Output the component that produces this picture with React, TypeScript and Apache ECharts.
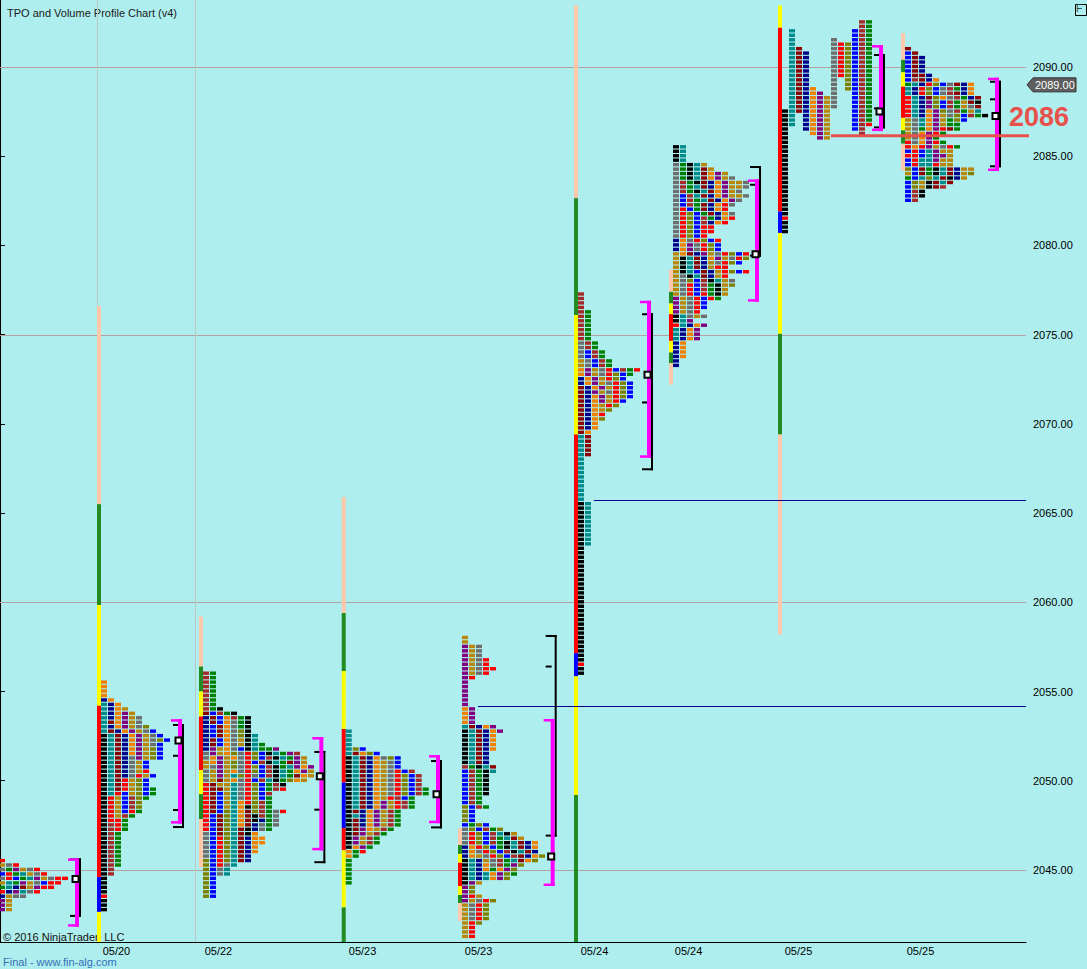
import React, { useEffect, useRef } from "react";
import * as echarts from "echarts";

// ---------- colours ----------
const TPO_COLORS: Record<string, string> = {
  K: "#000000", T: "#008B8B", D: "#8B0000", N: "#00008B", O: "#F08000",
  P: "#800080", G: "#B8860B", Y: "#6E6E6E", R: "#FF0000", V: "#808000",
  B: "#0000FF", W: "#A52A2A", E: "#008000",
};
const BAR_COLORS: Record<string, string> = {
  S: "#FFC8AA", F: "#228B22", L: "#FFFF00", R: "#FF0000", B: "#0000FF",
};

const TICK_SIZE = 0.25;

// ---------- TPO rows (top price downwards, one letter per period) ----------
const s1Rows = ["R", "GYR", "YEPGYR", "BRETGYR", "YRBETPGYRR", "GTEPGYBRR", "ETNDGPRR", "RNPTYR", "NGYY", "PG", "PG", "PG"];

const s2Rows = [
  "O", "O", "O", "O", "NO", "TNO", "TNOG", "TNOPG", "TNOPGY", "TDOPGY", "TNOPGYV", "TDNOPGYB",
  "KTDNOPGYB", "KTDNOPGYVB", "KTDNOPGYB", "KTDNOPGVB", "KTDNOPGVB", "KTDNYPGVB", "KTDNYGB", "KTDNYGB",
  "KTDNYGR", "KTDNYRGB", "KTDRGVB", "KTDRGVB", "KTDRGVBE", "KTRBGVBE", "KRGBWVE", "KRGBWV", "KRGBWV",
  "KRGBRE", "KRGWE", "KRRE", "KWRE", "KWRE", "KWE", "KWE", "KWE", "KWE", "KWE", "KWE", "KWE", "KWE",
  "KW", "KW", "K", "K", "K", "K", "R", "K", "K", "K",
];

const s3Rows = [
  "WE", "WE", "WE", "WE", "WE", "WE", "WE", "WE", "WEK", "DBWEK", "NDBOWEK", "NDBOYEK", "NBDOYEK",
  "NBDOYVK", "NBDOYVKT", "NDBOYGKT", "NDBOYGKTE", "NPGOYBKTEEP", "YPGOVYRVBKTEPW", "YOPGOYRVBWKTEPG",
  "GOPGVYRBWKTEDPG", "GYPGVYRVBWKETPOP", "YGPGOYRVBWKTEOPG", "YGPGTVRYBWKTEDOG", "YGDGOYRBWTKEVOG",
  "RDGGTYRVBEWK", "RDDGTYRVBEWR", "RDBGTYRVBW", "RDBGTYRVBE", "RDBGTORVWE", "RDBGTOKVWE", "RDBVTODVWEYR",
  "RBDVTODKWEY", "RBDVTODKNEY", "RBDVTODNYEY", "RBDVTDKNYE", "YBDVTDKO", "YBRVTDNOO", "YBRVTDNOO",
  "YBRVTDNO", "YBRVTDNO", "YBRVTDN", "VBRVTDN", "VBRYT", "VBYT", "VBYT", "VB", "VB", "VB", "VB", "VB",
];

const s4Rows = [
  "T", "T", "T", "T", "TVB", "TDOVB", "KTDNOYVB", "KTDNOGYB", "KTDNOGYB", "KTDNOGYRBW", "KTDNOGYRVBW",
  "KTDNOGYRVBW", "KTDNOGYRVBW", "KTDNOGYRVBWE", "KTDNOGYRVBWE", "KTDNOGRWBE", "KTDNOPGRWE", "KTDNOPGRWE",
  "KDNOPGWE", "KTNOPGWE", "KDNOPGWE", "KDNOPGWE", "KDPOGWE", "KDPGWE", "KPGWE", "KPGWE", "KOPE", "OER",
  "OE", "E", "E", "E", "E", "E", "E",
];

const s5Rows = [
  "G", "G", "PGY", "PGY", "PGY", "PGYR", "PGYR", "PGYRR", "PGYR", "PR", "P", "P", "P", "P", "P", "P",
  "OP", "OP", "OP", "OP", "TDNOP", "KTDNOP", "KTDNO", "KTDNO", "KTDNO", "KTDNO", "KTDN", "KTDN", "KTDN",
  "WEKTD", "BWEKT", "BWEK", "BWEK", "BWEK", "BWEK", "BWEK", "BWE", "BWE", "VBWE", "VB", "VB", "VB", "BEVB",
  "YVBWEV", "YRVBWTKG", "YRVBWETDG", "YRVBWEKTDNO", "NORVBEKTDNO", "NOYRVBWKTDN", "NOGYRVBWDNOV",
  "KTNGYWETDOV", "KTNOYWEPV", "KTNOEOPV", "KTNTOPVE", "KTNTOPV", "KPG", "PV", "PV", "PRG", "PGYRV",
  "GYRV", "GYRV", "GYRV", "GYRV", "GRV", "GR", "GR", "GR",
];

const s6Rows = [
  "W", "W", "W", "W", "WE", "WE", "WE", "WE", "WE", "WE", "WE", "YWE", "YWE", "YBWE", "YBWE", "GYBWE", "GYBWE",
  "OPGYRBWER", "OPGYRVBE", "NOPGRVB", "NOPGYRVB", "DNOPGRVB", "DNPGYRVB", "DNOPGRVB", "DNOPGRB", "DNOGRV",
  "DNOGV", "DNOR", "DNOV", "DNO", "DNO", "DO", "TD", "TD", "TD", "TD", "TD",
  "T", "T", "T", "T", "T", "T", "T", "T", "T", "T",
  "KT", "KT", "KT", "KT", "KT", "KT", "KT", "KT", "KT", "KT",
  "K", "K", "K", "K", "K", "K", "K", "K", "K", "K", "K", "K", "K", "K", "K", "K", "K", "K", "K", "K",
  "K", "K", "K", "K", "K", "K", "R", "K", "K",
];

const s7Rows = [
  "KT", "KT", "KT", "KT", "YEKTG", "YEKTDG", "YEKTDOPG", "YEKTDOPGY", "YWEKDNOPGGY", "YWETDNOPGGY",
  "YWEKTDOPGY", "YBWTDNOPGGY", "YBWETDNOPY", "YBWEDNORY", "YRBEDNOR", "YRVBEDNOY", "YRVBWENOR", "YRVBWNOR",
  "YRVBRR", "YRVBRR", "YRVBR", "NOYRVBR", "NOPYRVB", "NOPYRVB", "GODNPGYRVBR", "GKTDNOPGYRV", "GKTDNGYRVB",
  "GKTDNGRR", "GKTBDNGRVBR", "GYKTDNGR", "GYVBWKTGY", "GYRBWEKGV", "GYRBWEKG", "GYRBREKG", "PGYRBRE",
  "PGYRB", "PGYRB", "PGYR", "KTYGY", "KTP", "RTNOP", "TNOP", "TNOP", "TNOP", "NO", "NO", "NO", "NO", "N", "N",
];

// split profile: every period keeps its own column
const s8Rows = [
  "           WE", "           WE", " T        BWE", " T        BWE", " T     Y  BWE", " T     YRVBWE",
  " TD    YRVBWE", " TDN   YRVBWE", " TDN   YRVBWE", " TDN   YRVBWE", " TDN   YRVBWE", " TDN   YRVBWE",
  " TDN   YRVBWE", " TDN   Y VBWE", " TDN   Y VBWE", " TDNO  Y VBWE", " TDNOP Y  BWE", " TDNOPGY  BWE",
  " TDNOPGY  BWE", " TDNOPGY  BWE", "KTDNOPG   BWE", "KT NOPG   BWE", "KT NOPG   BWE", "KT NOPG   BWR",
  "K  NOPG   BW", "K   OPG    W", "K    PG",
  "K", "K", "K", "K", "K", "K", "K", "K", "K", "K", "K", "K", "K", "K", "K", "K", "K", "R", "K", "K", "K",
];

const s9Rows = [
  "D", "BD", "BDN", "BDN", "BDN", "BDN", "BDDN", "BWDNO",
  "ETNRVBYDNO", "TNRVBYWENO", "TNRVBYWDNO",
  "RTNDVOYWEND", "RTNPVBWEGDK", "RTNPVBWEGYD", "RTNOPVYWEGT", "RTNOPGYVBWEK",
  "GYTOPGEVB", "GYTOPGEE", "GYEOPRDE", "GYOPRE", "GYOPE", "RYOPRE", "RORPGYRE",
  "BRBTPGG", "RRBTPPG", "BRTTPGG", "BRTTRGG",
  "VBDEKTDNGG", "GBDEKTDNGV", "EBTVTDKNG", "BVGKDTD", "BVGKDW", "BWK", "BWK", "BW",
];

const sessionRows = [s1Rows, s2Rows, s3Rows, s4Rows, s5Rows, s6Rows, s7Rows, s8Rows, s9Rows];
const sessionTop = [2045.5, 2055.5, 2056, 2052.75, 2058, 2077.25, 2085.5, 2092.5, 2091];
// bar index (x-axis unit) where each session's first TPO column starts
const sessionStart = [-0.14, 14.43, 29.0, 49.39, 66.0, 82.57, 96.14, 111.71, 129.29];

// ---------- session range bars [colour, low, high] ----------
const s2Bar: [string, number, number][] = [["S", 2065.5, 2076.6], ["F", 2059.85, 2065.5], ["L", 2054.2, 2059.85], ["R", 2044.6, 2054.2], ["B", 2042.65, 2044.6], ["L", 2040.5, 2042.65]];
const s3Bar: [string, number, number][] = [["S", 2056.4, 2059.2], ["F", 2055.0, 2056.4], ["L", 2053.6, 2055.0], ["R", 2050.6, 2053.6], ["L", 2049.25, 2050.6], ["F", 2047.85, 2049.25], ["S", 2045.15, 2047.85]];
const s4Bar: [string, number, number][] = [["S", 2059.4, 2065.9], ["F", 2056.15, 2059.4], ["L", 2052.9, 2056.15], ["R", 2049.9, 2052.9], ["B", 2047.35, 2049.9], ["R", 2046.1, 2047.35], ["L", 2042.9, 2046.1], ["F", 2040.5, 2042.9]];
const s5Bar: [string, number, number][] = [["S", 2046.4, 2047.35], ["F", 2045.9, 2046.4], ["L", 2045.4, 2045.9], ["R", 2044.1, 2045.4], ["L", 2043.6, 2044.1], ["F", 2043.15, 2043.6], ["S", 2042.15, 2043.15]];
const s6Bar: [string, number, number][] = [["S", 2082.65, 2093.45], ["F", 2076.1, 2082.65], ["L", 2069.4, 2076.1], ["R", 2057.15, 2069.4], ["B", 2055.85, 2057.15], ["L", 2049.2, 2055.85], ["F", 2040.5, 2049.2]];
const s7Bar: [string, number, number][] = [["S", 2077.4, 2078.65], ["F", 2076.75, 2077.4], ["L", 2076.15, 2076.75], ["R", 2074.65, 2076.15], ["L", 2074.0, 2074.65], ["F", 2073.4, 2074.0], ["S", 2072.2, 2073.4]];
const s8Bar: [string, number, number][] = [["L", 2092.2, 2093.45], ["R", 2081.9, 2092.2], ["B", 2080.7, 2081.9], ["L", 2075.05, 2080.7], ["F", 2069.4, 2075.05], ["S", 2058.2, 2069.4]];
const s9Bar: [string, number, number][] = [["S", 2090.4, 2091.9], ["F", 2089.7, 2090.4], ["L", 2088.9, 2089.7], ["R", 2087.15, 2088.9], ["L", 2086.45, 2087.15], ["F", 2085.7, 2086.45], ["S", 2084.2, 2085.7]];
const sessionBars = [[], s2Bar, s3Bar, s4Bar, s5Bar, s6Bar, s7Bar, s8Bar, s9Bar];

// ---------- value area / range brackets ----------
const vaHigh = [2045.65, 2053.45, 2052.45, 2051.44, 2053.46, 2076.9, 2083.7, 2091.23, 2089.4];
const vaLow = [2041.82, 2047.6, 2046.1, 2047.62, 2044.1, 2068.1, 2076.85, 2086.41, 2084.17];
const ibHigh = [2045.65, 2053.18, 2051.67, 2051.16, 2058.17, 2076.2, 2084.45, 2090.73, 2089.23];
const ibLow = [2042.37, 2047.35, 2045.38, 2047.33, 2046.87, 2067.4, 2079.37, 2086.56, 2084.38];
const ibTicks = [[], [2051.4, 2048.36], [2048.38], [], [2056.4], [2071.2], [2083.4], [2087.68], [2088.19]];
const pocPrice = [2044.5, 2052.25, 2050.25, 2049.25, 2045.75, 2072.75, 2079.5, 2087.5, 2087.25];
const bracketAt = [11.29, 26.0, 46.19, 62.86, 79.24, 93.0, 108.43, 126.14, 142.71];

// ---------- lines & labels ----------
const gridLevels = [2045, 2060, 2075, 2090];
const separatorAt = [13.86, 27.86];
const nakedPocPrice = [2065.75, 2054.2];
const nakedPocFrom = [84.86, 68.29];
const refLevel = 2086.15;
const refFrom = 118.7;
const refLabel = "2086";
const lastPrice = 2089;
const yTickValues = [2045, 2050, 2055, 2060, 2065, 2070, 2075, 2080, 2085, 2090];
const xLabelPos = [16.64, 31.21, 51.79, 68.36, 84.93, 98.36, 114.07, 131.5];
const xLabelText = ["05/20", "05/22", "05/23", "05/23", "05/24", "05/24", "05/25", "05/25"];

const Y_MIN = 2040.963;
const Y_MAX = 2093.755;
const X_MAX = 146.57;
const FONT = '"Liberation Sans", Arial, sans-serif';

export default function App() {
  const ref = useRef<HTMLDivElement>(null);
  useEffect(() => {
    if (!ref.current) return;
    const chart = echarts.init(ref.current, undefined, { renderer: "svg" });

    const blocks: [number, number, string][] = [];
    sessionRows.forEach((rows, s) => {
      rows.forEach((row, r) => {
        for (let c = 0; c < row.length; c++) {
          const ch = row[c];
          if (ch !== " ") blocks.push([sessionStart[s] + c, sessionTop[s] - r * TICK_SIZE, ch]);
        }
      });
    });
    const barSegs: [number, number, number, string][] = [];
    sessionBars.forEach((segs, s) => {
      (segs as [string, number, number][]).forEach((g) => barSegs.push([sessionStart[s], g[1], g[2], g[0]]));
    });

    const option: any = {
      animation: false,
      backgroundColor: "#AFEEEE",
      grid: { left: 0, right: 61, top: 0, bottom: 27, containLabel: false },
      xAxis: {
        type: "value", min: 0, max: X_MAX,
        axisLine: { show: true, lineStyle: { color: "#000", width: 1 } },
        axisTick: { show: false },
        splitLine: { show: false },
        axisLabel: {
          customValues: xLabelPos,
          margin: 3,
          lineHeight: 11,
          color: "#000",
          fontFamily: FONT,
          fontSize: 11,
          formatter: (v: number) => {
            const i = xLabelPos.findIndex((p) => Math.abs(p - v) < 0.01);
            return i >= 0 ? xLabelText[i] : "";
          },
        },
      },
      yAxis: {
        type: "value", position: "right", min: Y_MIN, max: Y_MAX,
        axisLine: { show: true, lineStyle: { color: "#000", width: 1 } },
        axisTick: { show: true, customValues: yTickValues, length: 5, inside: false, lineStyle: { color: "#000" } },
        splitLine: { show: false },
        axisLabel: {
          customValues: yTickValues, margin: 7, color: "#000", fontFamily: FONT, fontSize: 11,
          formatter: (v: number) => v.toFixed(2),
        },
      },
      graphic: [
        { type: "text", z: 0, left: 7, top: 7, style: { text: "TPO and Volume Profile Chart (v4)", font: `11px ${FONT}`, lineHeight: 11, fill: "#1a1a1a" } },
        { type: "text", z: 0, left: 3, top: 931, style: { text: "© 2016 NinjaTrader, LLC", font: `11px ${FONT}`, lineHeight: 11, fill: "#111" } },
        { type: "text", z: 0, left: 3, top: 956.5, style: { text: "Final - www.fin-alg.com", font: `11px ${FONT}`, lineHeight: 11, fill: "#3470B8" } },
        { type: "rect", left: 1073, top: 2, shape: { width: 11, height: 11 }, style: { fill: "none", stroke: "#000", lineWidth: 1 } },
        { type: "text", left: 1076, top: 3, style: { text: "F", font: `10px ${FONT}`, fill: "#2a4a4a" } },
      ],
      series: [
        {
          type: "custom", name: "grid", z: 1, silent: true,
          data: gridLevels.map((v) => [0, v]),
          renderItem: (params: any, api: any) => {
            const cs = params.coordSys;
            const y = Math.round(api.coord([0, api.value(1)])[1]) + 0.5;
            return { type: "line", shape: { x1: cs.x, y1: y, x2: cs.x + cs.width, y2: y }, style: { stroke: "#B4A2A2", lineWidth: 1 } };
          },
        },
        {
          type: "custom", name: "separators", z: 1, silent: true,
          data: separatorAt.map((v) => [v, Y_MIN]),
          renderItem: (params: any, api: any) => {
            const cs = params.coordSys;
            const x = Math.round(api.coord([api.value(0), Y_MIN])[0]) + 0.5;
            return { type: "line", shape: { x1: x, y1: cs.y, x2: x, y2: cs.y + cs.height }, style: { stroke: "#BFC6C6", lineWidth: 1 } };
          },
        },
        {
          type: "custom", name: "rangeBars", z: 3, silent: true, clip: true,
          data: barSegs.map((b) => [b[0], b[1], b[2]]),
          renderItem: (params: any, api: any) => {
            const b = barSegs[params.dataIndex];
            const top = api.coord([b[0], b[2]]);
            const bot = api.coord([b[0], b[1]]);
            return { type: "rect", shape: { x: top[0] - 4, y: top[1], width: 4, height: bot[1] - top[1] }, style: { fill: BAR_COLORS[b[3]] } };
          },
        },
        {
          type: "custom", name: "tpo", z: 3, silent: true, clip: true,
          data: blocks.map((b) => [b[0], b[1]]),
          renderItem: (params: any, api: any) => {
            const b = blocks[params.dataIndex];
            const p = api.coord([b[0], b[1]]);
            const w = api.size([1, 0])[0];
            return { type: "rect", shape: { x: p[0], y: p[1] - 2.2, width: w - 1, height: 3.4 }, style: { fill: TPO_COLORS[b[2]] } };
          },
        },
        {
          type: "custom", name: "nakedPoc", z: 4, silent: true,
          data: nakedPocPrice.map((p, i) => [nakedPocFrom[i], p]),
          renderItem: (params: any, api: any) => {
            const cs = params.coordSys;
            const p = api.coord([api.value(0), api.value(1)]);
            const y = Math.round(p[1]) + 0.5;
            return { type: "line", shape: { x1: p[0], y1: y, x2: cs.x + cs.width, y2: y }, style: { stroke: "#00008B", lineWidth: 1 } };
          },
        },
        {
          type: "custom", name: "brackets", z: 5, silent: true, clip: false,
          data: bracketAt.map((x, i) => [x, pocPrice[i]]),
          renderItem: (params: any, api: any) => {
            const i = params.dataIndex;
            const bx = api.coord([bracketAt[i], pocPrice[i]])[0];
            const yOf = (p: number) => api.coord([bracketAt[i], p])[1];
            const children: any[] = [];
            const blk = { fill: "#000" };
            const mag = { fill: "#FF00FF" };
            const ih = yOf(ibHigh[i]);
            const il = yOf(ibLow[i]);
            children.push({ type: "rect", shape: { x: bx, y: ih, width: 2, height: il - ih }, style: blk });
            children.push({ type: "rect", shape: { x: bx - 9, y: ih, width: 11, height: 2 }, style: blk });
            children.push({ type: "rect", shape: { x: bx - 9, y: il - 2, width: 11, height: 2 }, style: blk });
            ibTicks[i].forEach((t) => {
              children.push({ type: "rect", shape: { x: bx - 9, y: yOf(t) - 1, width: 6, height: 2 }, style: blk });
            });
            const vh = yOf(vaHigh[i]);
            const vl = yOf(vaLow[i]);
            children.push({ type: "rect", shape: { x: bx - 4, y: vh, width: 4, height: vl - vh }, style: mag });
            children.push({ type: "rect", shape: { x: bx - 11, y: vh, width: 11, height: 2.5 }, style: mag });
            children.push({ type: "rect", shape: { x: bx - 11, y: vl - 2.5, width: 11, height: 2.5 }, style: mag });
            const py = yOf(pocPrice[i]);
            children.push({ type: "rect", shape: { x: bx - 6.5, y: py - 3, width: 6, height: 6 }, style: { fill: "#FFFFFF", stroke: "#000", lineWidth: 2 } });
            return { type: "group", children };
          },
        },
        {
          type: "custom", name: "reference", z: 6, silent: true, clip: false,
          data: [[refFrom, refLevel]],
          renderItem: (params: any, api: any) => {
            const cs = params.coordSys;
            const p = api.coord([api.value(0), api.value(1)]);
            const right = cs.x + cs.width;
            return {
              type: "group",
              children: [
                { type: "line", shape: { x1: p[0], y1: p[1], x2: right + 3, y2: p[1] }, style: { stroke: "#E8504B", lineWidth: 3 } },
                { type: "text", style: { text: refLabel, x: right + 43, y: p[1] - 18.5, align: "right", verticalAlign: "middle", font: `bold 27px ${FONT}`, fill: "#E8504B" } },
              ],
            };
          },
        },
        {
          type: "custom", name: "lastPrice", z: 7, silent: true, clip: false,
          data: [[X_MAX, lastPrice]],
          renderItem: (params: any, api: any) => {
            const cs = params.coordSys;
            const y = api.coord([X_MAX, api.value(1)])[1];
            const x = cs.x + cs.width;
            return {
              type: "group",
              children: [
                { type: "polygon", shape: { points: [[x + 1, y], [x + 7, y - 7], [x + 50, y - 7], [x + 50, y + 7], [x + 7, y + 7]] }, style: { fill: "#5E5E5E", stroke: "#333", lineWidth: 1 } },
                { type: "text", style: { text: lastPrice.toFixed(2), x: x + 9, y: y, verticalAlign: "middle", font: `11px ${FONT}`, fill: "#FFFFFF" } },
              ],
            };
          },
        },
      ],
    };
    chart.setOption(option);
    return () => chart.dispose();
  }, []);

  return <div ref={ref} style={{ position: "fixed", left: 0, top: 0, width: 1087, height: 969 }} />;
}
